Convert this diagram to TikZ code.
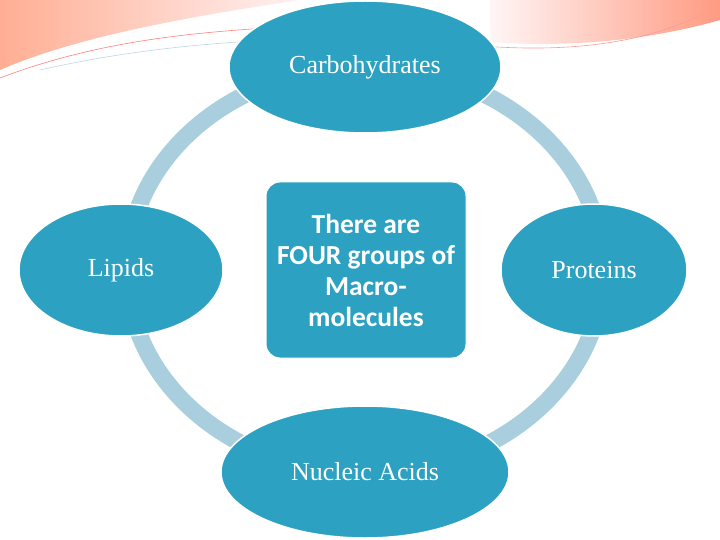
\documentclass[tikz,border=0pt]{standalone}
\usepackage{fontspec}
\usetikzlibrary{shapes.geometric}
\setmainfont{Liberation Serif}
\newfontfamily\calib{Carlito}
\begin{document}
\begin{tikzpicture}[x=1pt,y=-1pt,
  oval/.style={ellipse,draw=white,line width=1.5pt,fill=ovalblue,text=white,font=\fontsize{26}{30}\selectfont},
  ]
\definecolor{ovalblue}{HTML}{2CA1C2}
\definecolor{ringblue}{HTML}{A9CEDE}
\useasboundingbox (0,0) rectangle (720,540);
\fill[white] (0,0) rectangle (720,540);
% top decorations
\shade[left color=red!50!orange!60,right color=pink!30,opacity=0.7] (0,0) -- (300,0) .. controls (200,15) and (80,35) .. (0,70) -- cycle;
\shade[left color=pink!20,right color=red!60!orange!70,opacity=0.7] (490,0) -- (720,0) -- (720,20) .. controls (650,40) and (570,48) .. (490,42) -- cycle;
\draw[red!50,line width=0.6pt] (0,78) .. controls (100,40) and (200,30) .. (330,25);
\draw[red!40,line width=0.6pt] (470,45) .. controls (580,55) and (660,40) .. (720,5);
\draw[ringblue!80,line width=0.6pt] (40,70) .. controls (150,45) and (250,40) .. (330,38);
% ring
\draw[ringblue,line width=17pt] (365,270) ellipse [x radius=238, y radius=203];
% ovals
\node[oval,minimum width=272,minimum height=132] (carb) at (365,67) {Carbohydrates};
\node[oval,minimum width=204,minimum height=132] (lip) at (121,270) {Lipids};
\node[oval,minimum width=186,minimum height=132] (prot) at (594,270) {Proteins};
\node[oval,minimum width=288,minimum height=132] (nuc) at (365,472) {Nucleic Acids};
% center
\node[draw=white,line width=1pt,fill=ovalblue,rounded corners=14pt,minimum width=200,minimum height=176,
  text=white,align=center,font=\calib\bfseries\fontsize{27.5}{31}\selectfont] (c) at (366,270)
  {There are\\FOUR groups of\\Macro-\\molecules};
\end{tikzpicture}
\end{document}
